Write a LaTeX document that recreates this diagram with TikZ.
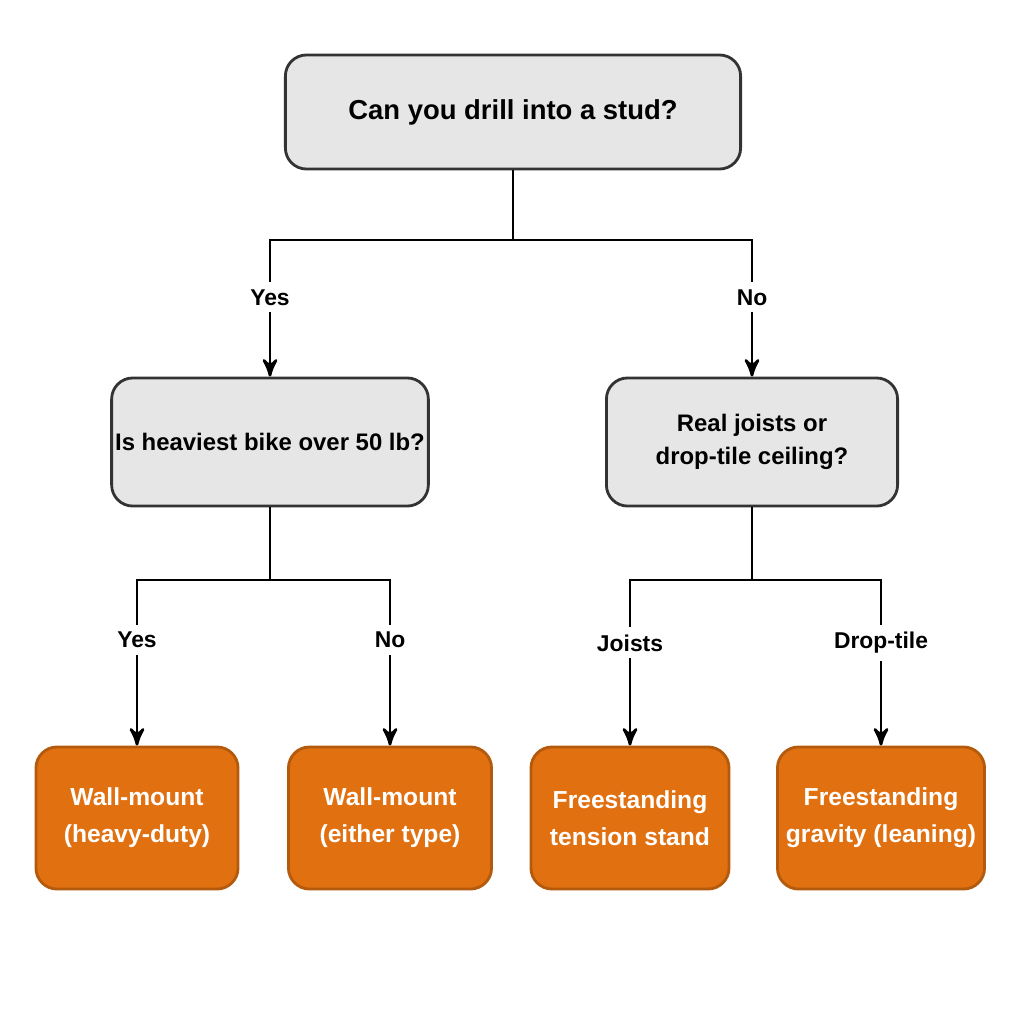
\documentclass[tikz,border=0pt]{standalone}
\usepackage{fontspec}
\setmainfont{Liberation Sans}
\usetikzlibrary{arrows}
\definecolor{box_gray}{RGB}{230,230,230}
\definecolor{leaf_orange}{RGB}{224,112,16}
\begin{document}
\begin{tikzpicture}[thick,>=stealth',x=0.01cm,y=-0.01cm]
    \tikzstyle{quest}=[draw=black!80, rounded corners=6pt, fill=box_gray, text=black, align=center, inner xsep=1pt, font=\bfseries\fontsize{6.8}{9.5}\selectfont]
    \tikzstyle{leaf}=[draw=leaf_orange!80!black, rounded corners=6pt, fill=leaf_orange, text=white, align=center, inner xsep=1pt, font=\bfseries\fontsize{7}{10.5}\selectfont]
    \tikzstyle{lbl}=[fill=white, inner sep=2pt, font=\bfseries\fontsize{6.5}{8}\selectfont]
    \useasboundingbox (0,0) rectangle (1024,1024);

    \node[quest, minimum width=4.55cm, minimum height=1.14cm, font=\bfseries\fontsize{7.8}{10}\selectfont] (top) at (513,112) {Can you drill into a stud?};
    \node[quest, minimum width=3.13cm, minimum height=1.28cm] (heavy) at (270,442) {Is heaviest bike over 50 lb?};
    \node[quest, minimum width=2.91cm, minimum height=1.28cm] (ceil) at (752,442) {Real joists or\\drop-tile ceiling?};
    \node[leaf, minimum width=2.02cm, minimum height=1.42cm] (hd) at (137,818) {Wall-mount\\(heavy-duty)};
    \node[leaf, minimum width=2.03cm, minimum height=1.42cm] (et) at (390,818) {Wall-mount\\(either type)};
    \node[leaf, minimum width=1.98cm, minimum height=1.42cm] (ts) at (630,818) {Freestanding\\tension stand};
    \node[leaf, minimum width=2.07cm, minimum height=1.42cm] (gl) at (881,818) {Freestanding\\gravity (leaning)};

    \coordinate (j1) at (513,240);
    \coordinate (j2) at (270,580);
    \coordinate (j3) at (752,580);

    \draw (top.south) -- (j1);
    \draw[->] (j1) -| (heavy.north) node[lbl, pos=0.71] {Yes};
    \draw[->] (j1) -| (ceil.north) node[lbl, pos=0.71] {No};
    \draw (heavy.south) -- (j2);
    \draw[->] (j2) -| (hd.north) node[lbl, pos=0.68] {Yes};
    \draw[->] (j2) -| (et.north) node[lbl, pos=0.68] {No};
    \draw (ceil.south) -- (j3);
    \draw[->] (j3) -| (ts.north) node[lbl, pos=0.69] {Joists};
    \draw[->] (j3) -| (gl.north) node[lbl, pos=0.69] {Drop-tile};
\end{tikzpicture}
\end{document}
